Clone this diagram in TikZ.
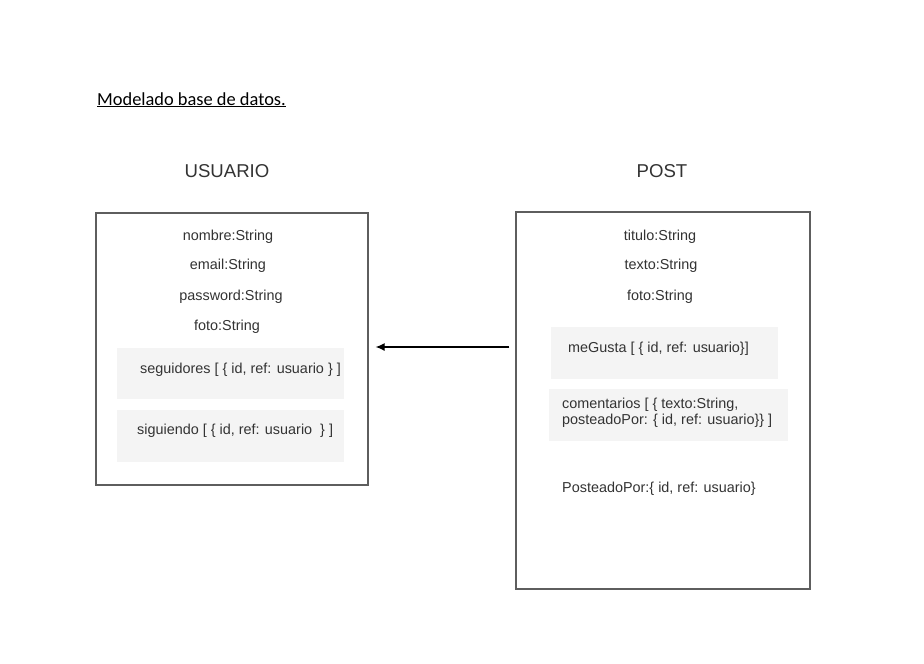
\documentclass[tikz,border=0pt]{standalone}
\usepackage{fontspec}
\setmainfont{Liberation Sans}
\newfontfamily\titlefnt{Carlito}
\usetikzlibrary{arrows.meta}
\definecolor{bordergray}{HTML}{5E5E5E}
\definecolor{fillgray}{HTML}{F4F4F4}
\definecolor{txtgray}{HTML}{333333}
\tikzset{
  entity/.style={draw=bordergray, line width=1.3pt, rectangle, inner sep=0pt},
  fieldbox/.style={fill=fillgray, rectangle, inner sep=0pt},
  field/.style={font=\fontsize{14.4}{15.5}\selectfont, text=txtgray, inner sep=0pt},
  heading/.style={font=\fontsize{18.6}{20}\selectfont, text=txtgray, inner sep=0pt},
  link/.style={draw=black, line width=1.2pt, -{Latex[length=9pt,width=8pt]}}
}
\begin{document}
\begin{tikzpicture}[x=1pt,y=-1pt]
\useasboundingbox (0,0) rectangle (924,664);
\fill[white] (0,0) rectangle (924,664);

\node[anchor=base west, inner sep=0pt, font=\titlefnt\fontsize{18.4}{20}\selectfont] (title) at (97,105) {\underline{Modelado base de datos.}};

\node[heading] (husuario) at (227,171) {USUARIO};
\node[heading] (hpost) at (662,171) {POST};

% USUARIO entity
\node[entity, minimum width=272pt, minimum height=272pt] (usuario) at (232,349) {};
\node[fieldbox, minimum width=227pt, minimum height=51pt] (segbox) at (230.5,373.5) {};
\node[fieldbox, minimum width=227pt, minimum height=52pt] (sigbox) at (230.5,436) {};
\node[field] (nombre) at (228,237) {nombre:String};
\node[field] (email) at (228,266) {email:String};
\node[field] (password) at (231,297) {password:String};
\node[field] (fotou) at (227,327) {foto:String};
\node[field, anchor=west] (seguidores) at (140,370) {seguidores [ \{ id, ref: usuario \} ]};
\node[field, anchor=west] (siguiendo) at (137,431) {siguiendo [ \{ id, ref: usuario\ \ \} ]};

% POST entity
\node[entity, minimum width=294pt, minimum height=377pt] (post) at (663,400.5) {};
\node[fieldbox, minimum width=227pt, minimum height=52pt] (megbox) at (664.5,353) {};
\node[fieldbox, minimum width=239pt, minimum height=52pt] (combox) at (668.5,415) {};
\node[field] (titulo) at (660,237) {titulo:String};
\node[field] (texto) at (661,266) {texto:String};
\node[field] (fotop) at (660,297) {foto:String};
\node[field, anchor=west] (megusta) at (568,349) {meGusta [ \{ id, ref: usuario\}]};
\node[field, anchor=west, align=left] (comentarios) at (562,413) {comentarios [ \{ texto:String,\\posteadoPor: \{ id, ref: usuario\}\} ]};
\node[field, anchor=west] (posteado) at (562,489) {PosteadoPor:\{ id, ref: usuario\}};

\coordinate (ay) at (0,347);
\draw[link, shorten <=6pt, shorten >=7pt] (post.west |- ay) -- (usuario.east |- ay);
\end{tikzpicture}
\end{document}
